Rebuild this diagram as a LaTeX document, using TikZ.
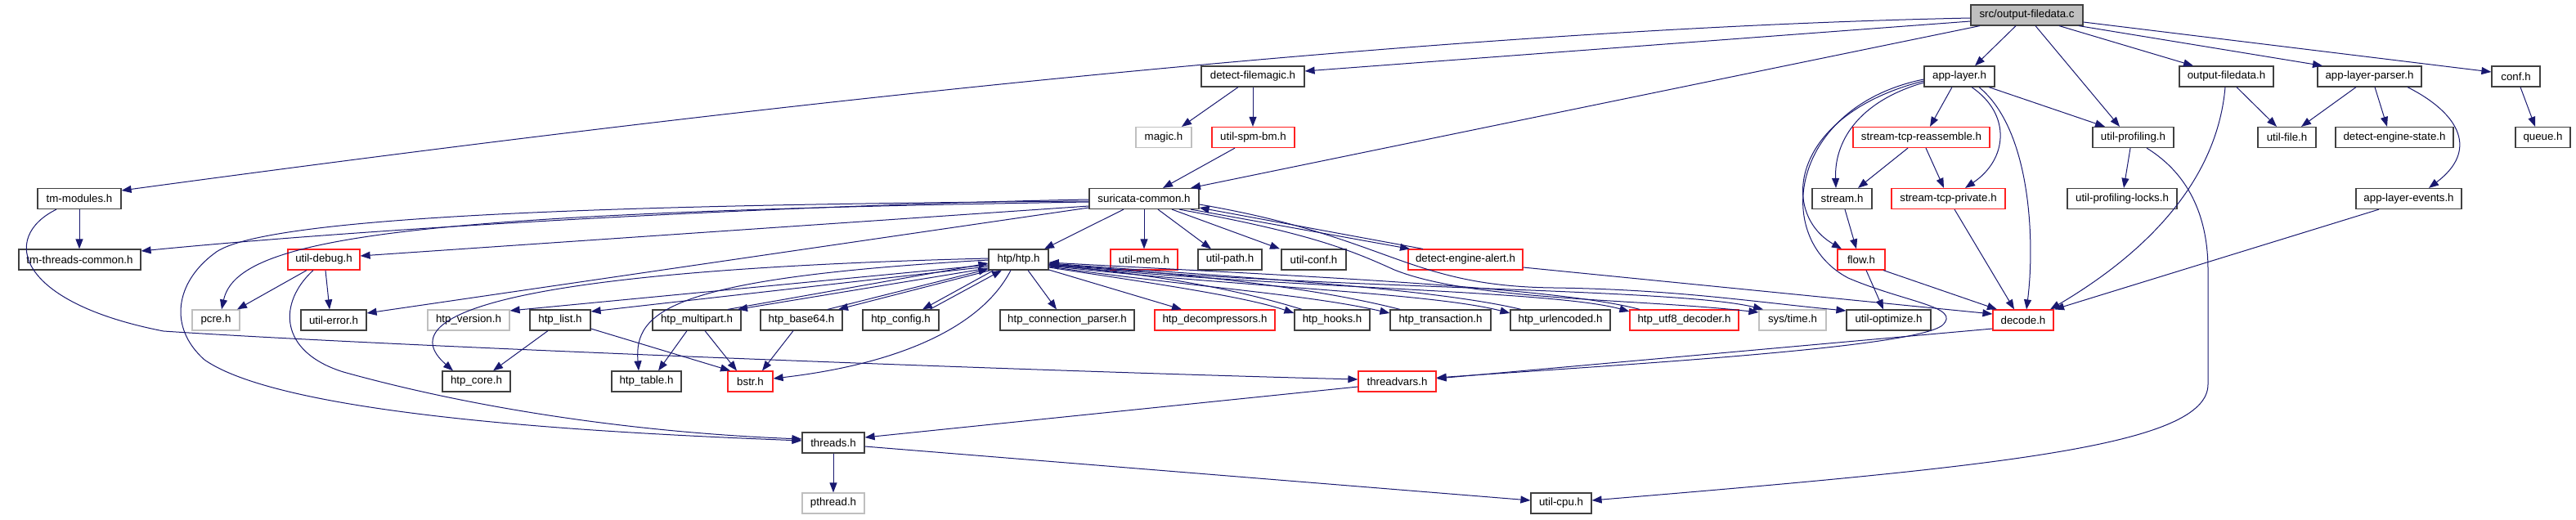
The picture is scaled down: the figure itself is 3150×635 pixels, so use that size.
\documentclass[tikz,border=0pt]{standalone}
\usepackage{fontspec}
\setmainfont{Liberation Sans}
\usetikzlibrary{arrows.meta}
\definecolor{edgec}{HTML}{191970}
\definecolor{boxblack}{HTML}{404040}
\definecolor{boxred}{HTML}{FF2020}
\definecolor{boxgray}{HTML}{BFBFBF}
\begin{document}
\begin{tikzpicture}[x=1pt,y=-1pt,
  nb/.style={draw=boxblack, line width=1.2pt, fill=white, minimum height=25pt, inner sep=0pt,
    font=\fontsize{13.3}{16}\selectfont, anchor=center},
  nr/.style={nb, draw=boxred},
  ng/.style={nb, draw=boxgray},
  ed/.style={draw=edgec, line width=1pt, -{Triangle[length=12pt,width=9pt]}}]
\useasboundingbox (0,0) rectangle (3150,635);
% row 0
\node[nb, minimum width=137pt, fill=boxgray] (root) at (2478.5,18.5) {src/output-filedata.c};
% row 1
\node[nb, minimum width=126pt] (dfm) at (1532,93.5) {detect-filemagic.h};
\node[nb, minimum width=86pt] (applayer) at (2396,93.5) {app-layer.h};
\node[nb, minimum width=115pt] (ofd) at (2722.5,93.5) {output-filedata.h};
\node[nb, minimum width=127pt] (alp) at (2897.5,93.5) {app-layer-parser.h};
\node[nb, minimum width=59pt] (conf) at (3076.5,93.5) {conf.h};
% row 2
\node[ng, minimum width=68pt] (magic) at (1423,168) {magic.h};
\node[nr, minimum width=101pt] (spm) at (1532.5,168) {util-spm-bm.h};
\node[nr, minimum width=167pt] (stra) at (2349.5,168) {stream-tcp-reassemble.h};
\node[nb, minimum width=99pt] (prof) at (2608.5,168) {util-profiling.h};
\node[nb, minimum width=71pt] (ufile) at (2796.5,168) {util-file.h};
\node[nb, minimum width=144pt] (des) at (2928,168) {detect-engine-state.h};
\node[nb, minimum width=67pt] (queue) at (3109.5,168) {queue.h};
% row 3
\node[nb, minimum width=102pt] (tmmod) at (97,243) {tm-modules.h};
\node[nb, minimum width=134pt] (sc) at (1399,243) {suricata-common.h};
\node[nb, minimum width=73pt] (stream) at (2252.5,243) {stream.h};
\node[nr, minimum width=139pt] (stp) at (2382.5,243) {stream-tcp-private.h};
\node[nb, minimum width=134pt] (locks) at (2595,243) {util-profiling-locks.h};
\node[nb, minimum width=129pt] (ale) at (2945.5,243) {app-layer-events.h};
% row 4
\node[nb, minimum width=149pt] (ttc) at (97.5,317.5) {tm-threads-common.h};
\node[nr, minimum width=88pt] (udebug) at (396,317.5) {util-debug.h};
\node[nb, minimum width=73pt] (htp) at (1245.5,317.5) {htp/htp.h};
\node[nr, minimum width=82pt] (umem) at (1399,317.5) {util-mem.h};
\node[nb, minimum width=78pt] (upath) at (1504,317.5) {util-path.h};
\node[nb, minimum width=79pt] (uconf) at (1606.5,317.5) {util-conf.h};
\node[nr, minimum width=140pt] (dea) at (1792,317.5) {detect-engine-alert.h};
\node[nr, minimum width=58pt] (flow) at (2276,317.5) {flow.h};
% row 5
\node[ng, minimum width=58pt] (pcre) at (264,391.5) {pcre.h};
\node[nb, minimum width=80pt] (uerr) at (408,391.5) {util-error.h};
\node[ng, minimum width=100pt] (hver) at (573,391.5) {htp\_version.h};
\node[nb, minimum width=74pt] (hlist) at (685,391.5) {htp\_list.h};
\node[nb, minimum width=108pt] (hmp) at (852,391.5) {htp\_multipart.h};
\node[nb, minimum width=100pt] (hb64) at (980,391.5) {htp\_base64.h};
\node[nb, minimum width=93pt] (hcfg) at (1101.5,391.5) {htp\_config.h};
\node[nb, minimum width=164pt] (hcp) at (1305,391.5) {htp\_connection\_parser.h};
\node[nr, minimum width=147pt] (hdec) at (1485.5,391.5) {htp\_decompressors.h};
\node[nb, minimum width=92pt] (hhooks) at (1629,391.5) {htp\_hooks.h};
\node[nb, minimum width=123pt] (htrans) at (1761.5,391.5) {htp\_transaction.h};
\node[nb, minimum width=122pt] (hurl) at (1908,391.5) {htp\_urlencoded.h};
\node[nr, minimum width=133pt] (hutf) at (2059.5,391.5) {htp\_utf8\_decoder.h};
\node[ng, minimum width=82pt] (systime) at (2192,391.5) {sys/time.h};
\node[nb, minimum width=103pt] (uopt) at (2309.5,391.5) {util-optimize.h};
\node[nr, minimum width=74pt] (decode) at (2474,391.5) {decode.h};
% row 6
\node[nb, minimum width=83pt] (hcore) at (582.5,466.5) {htp\_core.h};
\node[nb, minimum width=85pt] (htable) at (790.5,466.5) {htp\_table.h};
\node[nr, minimum width=55pt] (bstr) at (917.5,466.5) {bstr.h};
\node[nr, minimum width=95pt] (tvars) at (1708.5,466.5) {threadvars.h};
% row 7
\node[nb, minimum width=76pt] (threads) at (1019,541.5) {threads.h};
% row 8
\node[ng, minimum width=76pt] (pthread) at (1019,615.5) {pthread.h};
\node[nb, minimum width=74pt] (ucpu) at (1909,615.5) {util-cpu.h};

% ---- edges from root
\draw[ed] (root.west |- 0,22) .. controls (1641,38) and (680,161) .. (tmmod.east |- 0,233);
\draw[ed] (root.west |- 0,26) -- (dfm.east |- 0,87);
\draw[ed] (root.south -| 2421,0) -- (sc.north -| 1456,0);
\draw[ed] (root.south -| 2465,0) -- (applayer.north -| 2415,0);
\draw[ed] (root.south -| 2489,0) -- (prof.north -| 2592,0);
\draw[ed] (root.south -| 2518,0) -- (ofd.north -| 2682,0);
\draw[ed] (root.south -| 2542,0) -- (alp.north -| 2840,0);
\draw[ed] (root.east |- 0,27) -- (conf.west |- 0,88);
% ---- app-layer.h
\draw[ed] (applayer.south -| 2387,0) -- (stra.north -| 2360,0);
\draw[ed] (applayer.south -| 2432,0) -- (prof.north -| 2574,0);
\draw[ed] (applayer.south -| 2411,0) .. controls (2460,140) and (2455,195) .. (stp.north -| 2403,0);
\draw[ed] (applayer.south -| 2420,0) .. controls (2485,160) and (2488,300) .. (decode.north -| 2478,0);
\draw[ed] (applayer.west |- 0,101) .. controls (2270,125) and (2243,175) .. (stream.north -| 2245,0);
\draw[ed] (applayer.west |- 0,99) .. controls (2190,140) and (2175,260) .. (flow.north -| 2252,0);
\draw[ed] (applayer.west |- 0,97) .. controls (2190,130) and (2165,290) .. (2260,340)
   .. controls (2330,370) and (2400,375) .. (2375,398)
   .. controls (2340,425) and (2000,445) .. (tvars.east |- 0,462);
% ---- stream family
\draw[ed] (stra.south -| 2333,0) -- (stream.north -| 2272,0);
\draw[ed] (stra.south -| 2355,0) -- (stp.north -| 2377,0);
\draw[ed] (stream.south -| 2256,0) -- (flow.north -| 2270,0);
\draw[ed] (stp.south -| 2390,0) -- (decode.north -| 2463,0);
\draw[ed] (flow.south -| 2282,0) -- (uopt.north -| 2303,0);
\draw[ed] (flow.south -| 2303,0) -- (decode.north -| 2442,0);
% ---- util-profiling.h
\draw[ed] (prof.south -| 2605,0) -- (locks.north -| 2597,0);
\draw[ed] (prof.south -| 2625,0) .. controls (2680,215) and (2700,270) .. (2700,330) -- (2700,470)
   .. controls (2700,545) and (2450,570) .. (ucpu.east |- 0,612);
% ---- output-filedata.h, app-layer-parser.h, conf.h
\draw[ed] (ofd.south -| 2735,0) -- (ufile.north -| 2784,0);
\draw[ed] (ofd.south -| 2721,0) .. controls (2712,210) and (2640,300) .. (decode.north -| 2507,0);
\draw[ed] (alp.south -| 2881,0) -- (ufile.north -| 2814,0);
\draw[ed] (alp.south -| 2904,0) -- (des.north -| 2919,0);
\draw[ed] (alp.south -| 2944,0) .. controls (3010,140) and (3030,185) .. (ale.north -| 2970,0);
\draw[ed] (conf.south -| 3082,0) -- (queue.north -| 3100,0);
\draw[ed] (ale.south -| 2909,0) -- (decode.north -| 2512,0);
% ---- detect-filemagic.h
\draw[ed] (dfm.south -| 1514,0) -- (magic.north -| 1445,0);
\draw[ed] (dfm.south -| 1532,0) -- (spm.north -| 1532,0);
\draw[ed] (spm.south -| 1510,0) -- (sc.north -| 1422,0);
% ---- suricata-common.h
\draw[ed] (sc.west |- 0,244) .. controls (1000,250) and (500,275) .. (ttc.east |- 0,307);
\draw[ed] (sc.west |- 0,252) -- (udebug.east |- 0,313);
\draw[ed] (sc.west |- 0,247) .. controls (500,260) and (290,290) .. (pcre.north -| 271,0);
\draw[ed] (sc.west |- 0,246) .. controls (800,250) and (320,262) .. (262,310)
   .. controls (215,345) and (205,400) .. (250,440)
   .. controls (350,510) and (750,530) .. (threads.west |- 0,539);
\draw[ed] (sc.west |- 0,254) -- (uerr.east |- 0,383);
\draw[ed] (sc.south -| 1374,0) -- (htp.north -| 1277,0);
\draw[ed] (sc.south -| 1399,0) -- (umem.north -| 1399,0);
\draw[ed] (sc.south -| 1416,0) -- (upath.north -| 1481,0);
\draw[ed] (sc.south -| 1433,0) -- (uconf.north -| 1565,0);
\draw[ed] (sc.south -| 1456,0) -- (dea.north -| 1724,0);
\draw[ed] (dea.north -| 1740,0) -- (sc.east |- 0,254);
\draw[ed] (sc.south -| 1442,0) .. controls (1600,285) and (1650,305) .. (1705,330)
   .. controls (1800,368) and (2000,365) .. (systime.west |- 0,382);
\draw[ed] (sc.east |- 0,250) .. controls (1700,290) and (1720,350) .. (1900,352)
   .. controls (2050,354) and (2150,370) .. (uopt.west |- 0,380);
% ---- htp/htp.h
\draw[ed] (htp.west |- 0,324) -- (hver.east |- 0,380);
\draw[ed] (htp.west |- 0,326) -- (hlist.east |- 0,381);
\draw[ed] (htp.west |- 0,316) .. controls (650,330) and (470,380) .. (hcore.north -| 554,0);
\draw[ed] (htp.west |- 0,318) .. controls (820,340) and (775,380) .. (htable.north -| 781,0);
\draw[ed] (htp.west |- 0,328) -- (hmp.north -| 902,0);
\draw[ed] (hmp.north -| 890,0) -- (htp.west |- 0,322);
\draw[ed] (htp.south -| 1211,0) -- (hb64.north -| 1025,0);
\draw[ed] (hb64.north -| 1012,0) -- (htp.west |- 0,329);
\draw[ed] (htp.south -| 1215,0) -- (hcfg.north -| 1128,0);
\draw[ed] (hcfg.north -| 1137,0) -- (htp.south -| 1225,0);
\draw[ed] (htp.south -| 1236,0) .. controls (1200,400) and (1100,445) .. (bstr.east |- 0,463);
\draw[ed] (htp.south -| 1257,0) -- (hcp.north -| 1292,0);
\draw[ed] (htp.east |- 0,330) -- (hdec.north -| 1445,0);
\draw[ed] (htp.east |- 0,327) .. controls (1400,345) and (1520,362) .. (hhooks.west |- 0,383);
\draw[ed] (hhooks.north -| 1592,0) .. controls (1500,350) and (1400,335) .. (htp.east |- 0,324);
\draw[ed] (htp.east |- 0,326) .. controls (1450,350) and (1600,360) .. (htrans.west |- 0,383);
\draw[ed] (htrans.north -| 1712,0) .. controls (1600,350) and (1450,335) .. (htp.east |- 0,323);
\draw[ed] (htp.east |- 0,325) .. controls (1500,350) and (1750,358) .. (hurl.west |- 0,383);
\draw[ed] (hurl.north -| 1860,0) .. controls (1750,352) and (1500,338) .. (htp.east |- 0,322);
\draw[ed] (htp.east |- 0,324) .. controls (1550,352) and (1900,355) .. (hutf.west |- 0,381);
\draw[ed] (hutf.north -| 2005,0) .. controls (1900,350) and (1550,336) .. (htp.east |- 0,321);
\draw[ed] (htp.east |- 0,323) .. controls (1600,354) and (2050,352) .. (systime.north -| 2156,0);
% ---- util-debug.h
\draw[ed] (udebug.south -| 375,0) -- (pcre.north -| 290,0);
\draw[ed] (udebug.south -| 398,0) -- (uerr.north -| 403,0);
\draw[ed] (udebug.south -| 383,0) .. controls (340,370) and (340,430) .. (420,455)
   .. controls (600,505) and (800,530) .. (threads.west |- 0,537);
% ---- htp_* lower
\draw[ed] (hlist.south -| 670,0) -- (hcore.north -| 603,0);
\draw[ed] (hlist.east |- 0,402) -- (bstr.north -| 893,0);
\draw[ed] (hmp.south -| 840,0) -- (htable.north -| 805,0);
\draw[ed] (hmp.south -| 862,0) -- (bstr.north -| 901,0);
\draw[ed] (hb64.south -| 970,0) -- (bstr.north -| 932,0);
% ---- tm-modules.h
\draw[ed] (tmmod.south -| 97,0) -- (ttc.north -| 97,0);
\draw[ed] (tmmod.south -| 69,0) .. controls (0,290) and (20,370) .. (200,405)
   .. controls (500,425) and (1300,455) .. (tvars.west |- 0,464);
% ---- threads etc.
\draw[ed] (tvars.west |- 0,473) -- (threads.east |- 0,535);
\draw[ed] (decode.west |- 0,402) -- (tvars.east |- 0,463);
\draw[ed] (dea.east |- 0,327) -- (decode.west |- 0,384);
\draw[ed] (threads.south -| 1019,0) -- (pthread.north -| 1019,0);
\draw[ed] (threads.east |- 0,546) -- (ucpu.west |- 0,612);
\end{tikzpicture}
\end{document}
